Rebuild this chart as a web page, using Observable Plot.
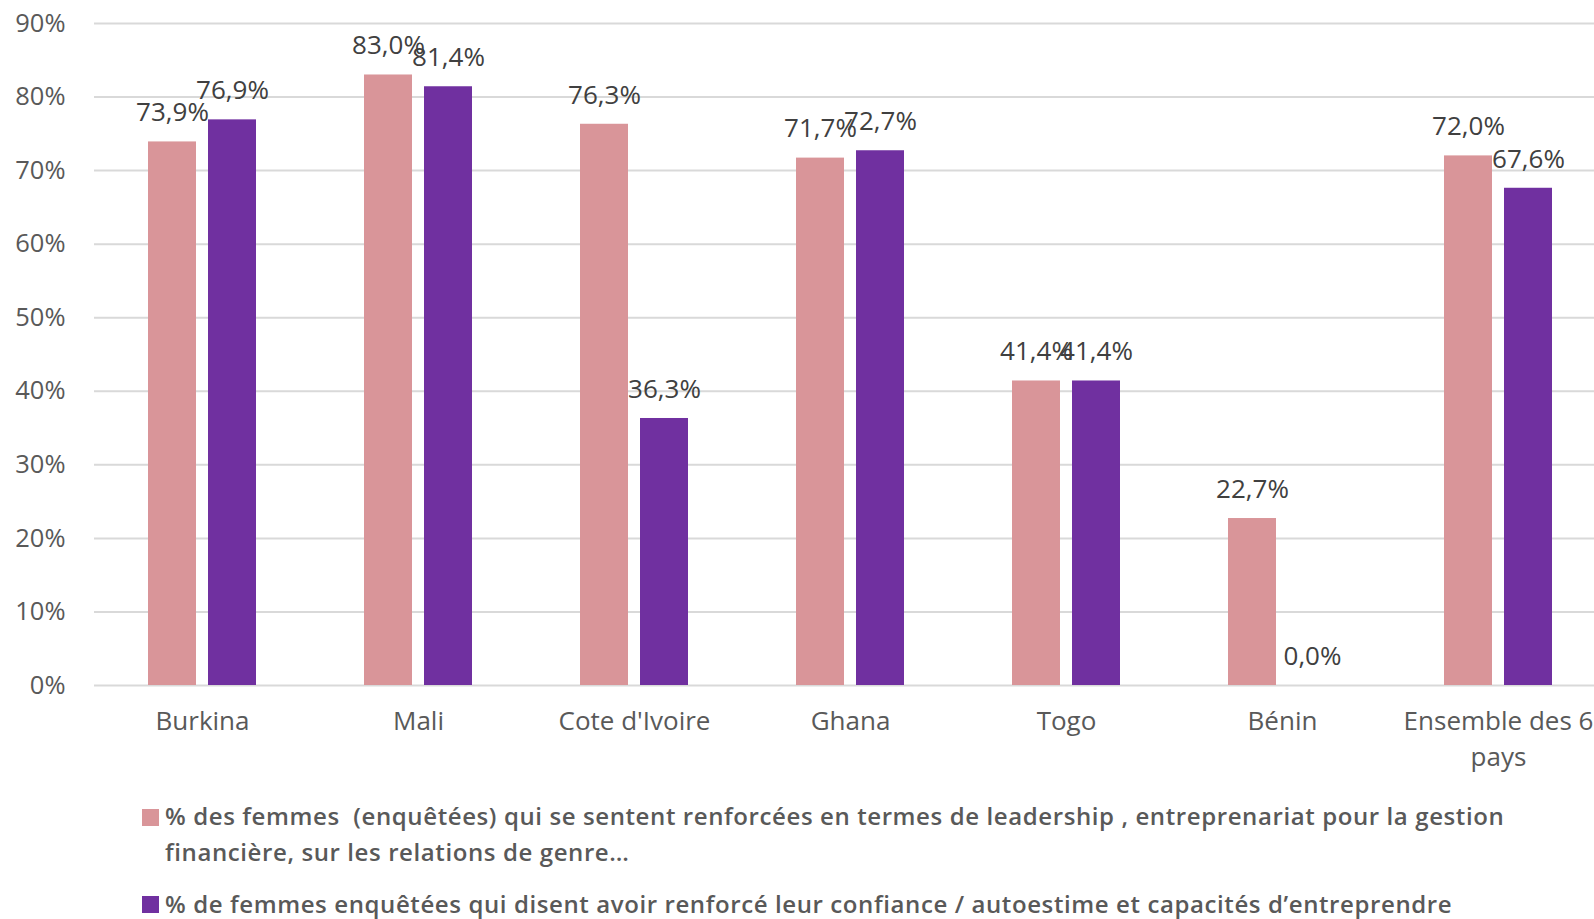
<!DOCTYPE html>
<html>
<head>
<meta charset="utf-8">
<script src="https://cdn.jsdelivr.net/npm/d3@7"></script>
<script src="https://cdn.jsdelivr.net/npm/@observablehq/plot@0.6"></script>
<style>
  html, body { margin: 0; padding: 0; background: #fff; overflow: hidden; }
  #wrap { position: relative; width: 1594px; height: 919px; }
  .sq { position: absolute; width: 17px; height: 17px; }
  .lg { position: absolute; left: 165px; font-family: "Open Sans", sans-serif; font-weight: 600;
        font-size: 24px; letter-spacing: 0.6px; line-height: 36px; color: #595959; white-space: nowrap; }
</style>
</head>
<body>
<div id="wrap">
  <div id="chart"></div>
</div>
<script>
const categories = ["Burkina", "Mali", "Cote d'Ivoire", "Ghana", "Togo", "Bénin", "Ensemble des 6 pays"];
const seriesNames = [
  "% des femmes  (enquêtées) qui se sentent renforcées en termes de leadership , entreprenariat pour la gestion financière, sur les relations de genre…",
  "% de femmes enquêtées qui disent avoir renforcé leur confiance / autoestime et capacités d’entreprendre"
];
const leadership = [73.9, 83.0, 76.3, 71.7, 41.4, 22.7, 72.0];
const confiance = [76.9, 81.4, 36.3, 72.7, 41.4, 0.0, 67.6];
const yTicks = [0, 10, 20, 30, 40, 50, 60, 70, 80, 90];
const colors = ["#D99599", "#7030A0"];
const tickLabels = {"Ensemble des 6 pays": "Ensemble des 6\npays"};

const data = [];
categories.forEach((c, i) => {
  data.push({country: c, series: seriesNames[0], value: leadership[i]});
  data.push({country: c, series: seriesNames[1], value: confiance[i]});
});
const fmt = v => v.toFixed(1).replace(".", ",") + "%";

const chart = Plot.plot({
  width: 1594,
  height: 780,
  marginLeft: 94,
  marginRight: -12,
  marginTop: 23,
  marginBottom: 95,
  style: {fontFamily: "'Open Sans', sans-serif", background: "white", color: "#595959", overflow: "visible"},
  fx: {domain: categories, padding: 0, label: null, axis: null},
  x: {domain: seriesNames, paddingInner: 0.205, paddingOuter: 0.873, axis: null},
  y: {domain: [0, 90], axis: null},
  color: {domain: seriesNames, range: colors},
  marks: [
    Plot.ruleY(yTicks, {stroke: "#d9d9d9", strokeWidth: 2}),
    Plot.axisY({ticks: yTicks, tickFormat: d => d + "%", tickSize: 0, tickPadding: 29, fontSize: 25.5, label: null, fill: "#595959"}),
    Plot.barY(data, {fx: "country", x: "series", y: "value", fill: "series"}),
    Plot.text(data, {fx: "country", x: "series", y: "value", text: d => fmt(d.value), dy: -29, fontSize: 26, fill: "#404040"}),
    Plot.axisFx({anchor: "bottom", tickSize: 0, tickPadding: 20, fontSize: 26, label: null, fill: "#595959", lineHeight: 1.35,
                 tickFormat: d => tickLabels[d] || d})
  ]
});
document.getElementById("chart").appendChild(chart);

const wrap = document.getElementById("wrap");
const legendTexts = [
  "% des femmes  (enquêtées) qui se sentent renforcées en termes de leadership , entreprenariat pour la gestion<br>financière, sur les relations de genre…",
  seriesNames[1]
];
const sqTops = [809, 896];
const txtTops = [798, 886];
legendTexts.forEach((t, i) => {
  const s = document.createElement("div");
  s.className = "sq";
  s.style.left = "142px";
  s.style.top = sqTops[i] + "px";
  s.style.background = colors[i];
  wrap.appendChild(s);
  const d = document.createElement("div");
  d.className = "lg";
  d.style.top = txtTops[i] + "px";
  d.innerHTML = t.replace(/  /g, "&nbsp; ");
  wrap.appendChild(d);
});
</script>
</body>
</html>
